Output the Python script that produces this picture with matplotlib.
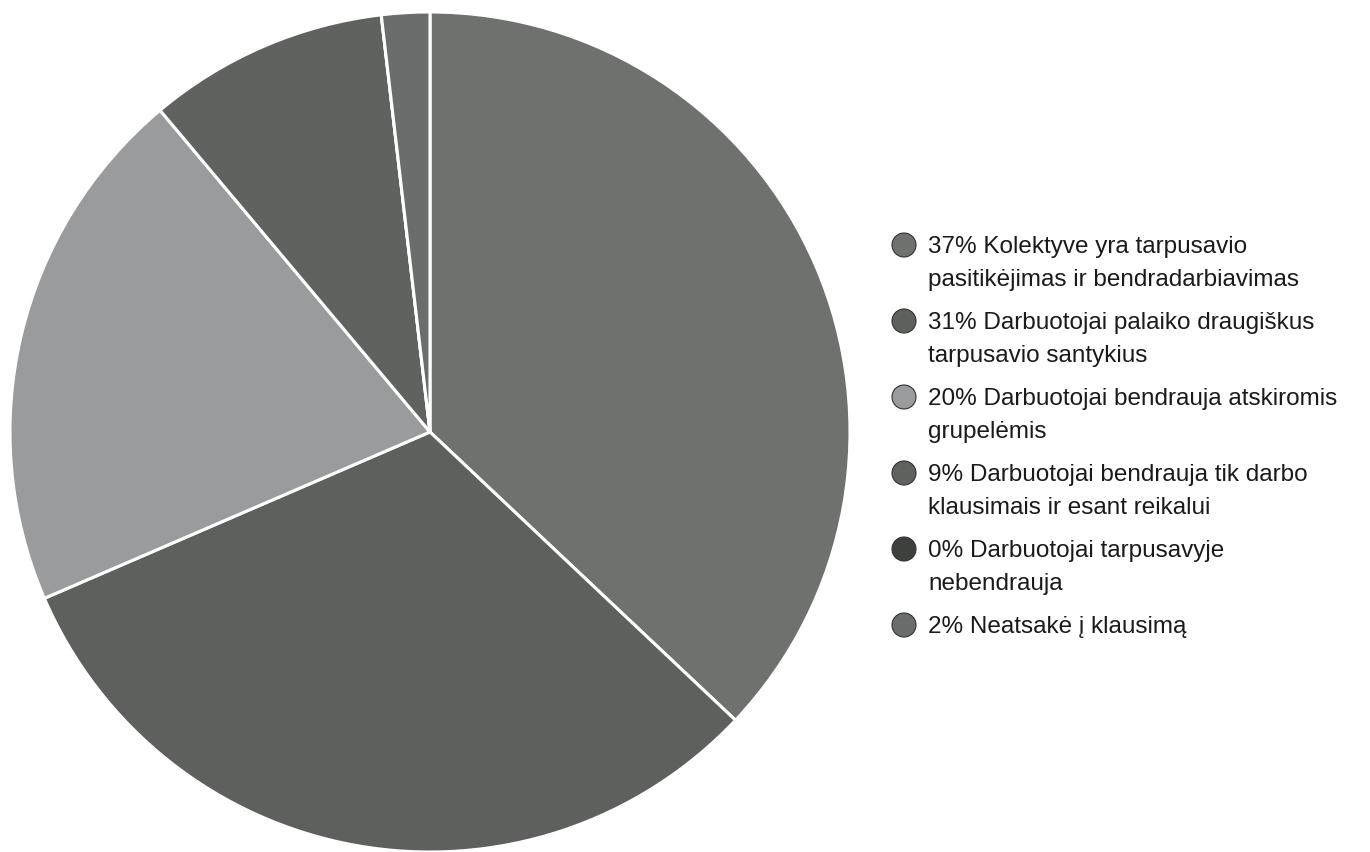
import matplotlib
matplotlib.use("Agg")
import matplotlib.pyplot as plt
from matplotlib.patches import Ellipse

plt.rcParams['font.family'] = ['Liberation Sans', 'DejaVu Sans']

# Data (respondent counts inferred from slice angles; labels show rounded %)
counts = [20, 17, 11, 5, 0, 1]
labels = [
    "37% Kolektyve yra tarpusavio\npasitikėjimas ir bendradarbiavimas",
    "31% Darbuotojai palaiko draugiškus\ntarpusavio santykius",
    "20% Darbuotojai bendrauja atskiromis\ngrupelėmis",
    "9% Darbuotojai bendrauja tik darbo\nklausimais ir esant reikalui",
    "0% Darbuotojai tarpusavyje\nnebendrauja",
    "2% Neatsakė į klausimą",
]
colors = ['#6f716f', '#5e605e', '#9a9b9c', '#606260', '#3e403e', '#6b6d6d']

W, H = 1370, 852
fig = plt.figure(figsize=(W / 100, H / 100), dpi=100)

cx, cy, r = 430, 432, 420
ax = fig.add_axes([(cx - r) / W, (H - cy - r) / H, 2 * r / W, 2 * r / H])
ax.pie(counts, colors=colors, startangle=90, counterclock=False,
       wedgeprops=dict(edgecolor='white', linewidth=2.2))
ax.set_aspect('equal')
ax.set_xlim(-1, 1)
ax.set_ylim(-1, 1)
ax.axis('off')

# Legend drawn manually
fs = 17.5
em = fs * 100 / 72
cap = 0.716 * em
first_y = [245, 321, 397, 473, 549, 625]
marker_x = 904
text_x = 928
for yy, lab, col in zip(first_y, labels, colors):
    fig.patches.append(Ellipse((marker_x / W, 1 - yy / H), 24 / W, 24 / H,
                               transform=fig.transFigure, facecolor=col,
                               edgecolor='#333333', linewidth=0.8))
    fig.text(text_x / W, 1 - (yy - cap / 2) / H, lab, fontsize=fs, color='#1a1a1a',
             va='top', ha='left', linespacing=1.62)

fig.savefig('out.png', dpi=100)
